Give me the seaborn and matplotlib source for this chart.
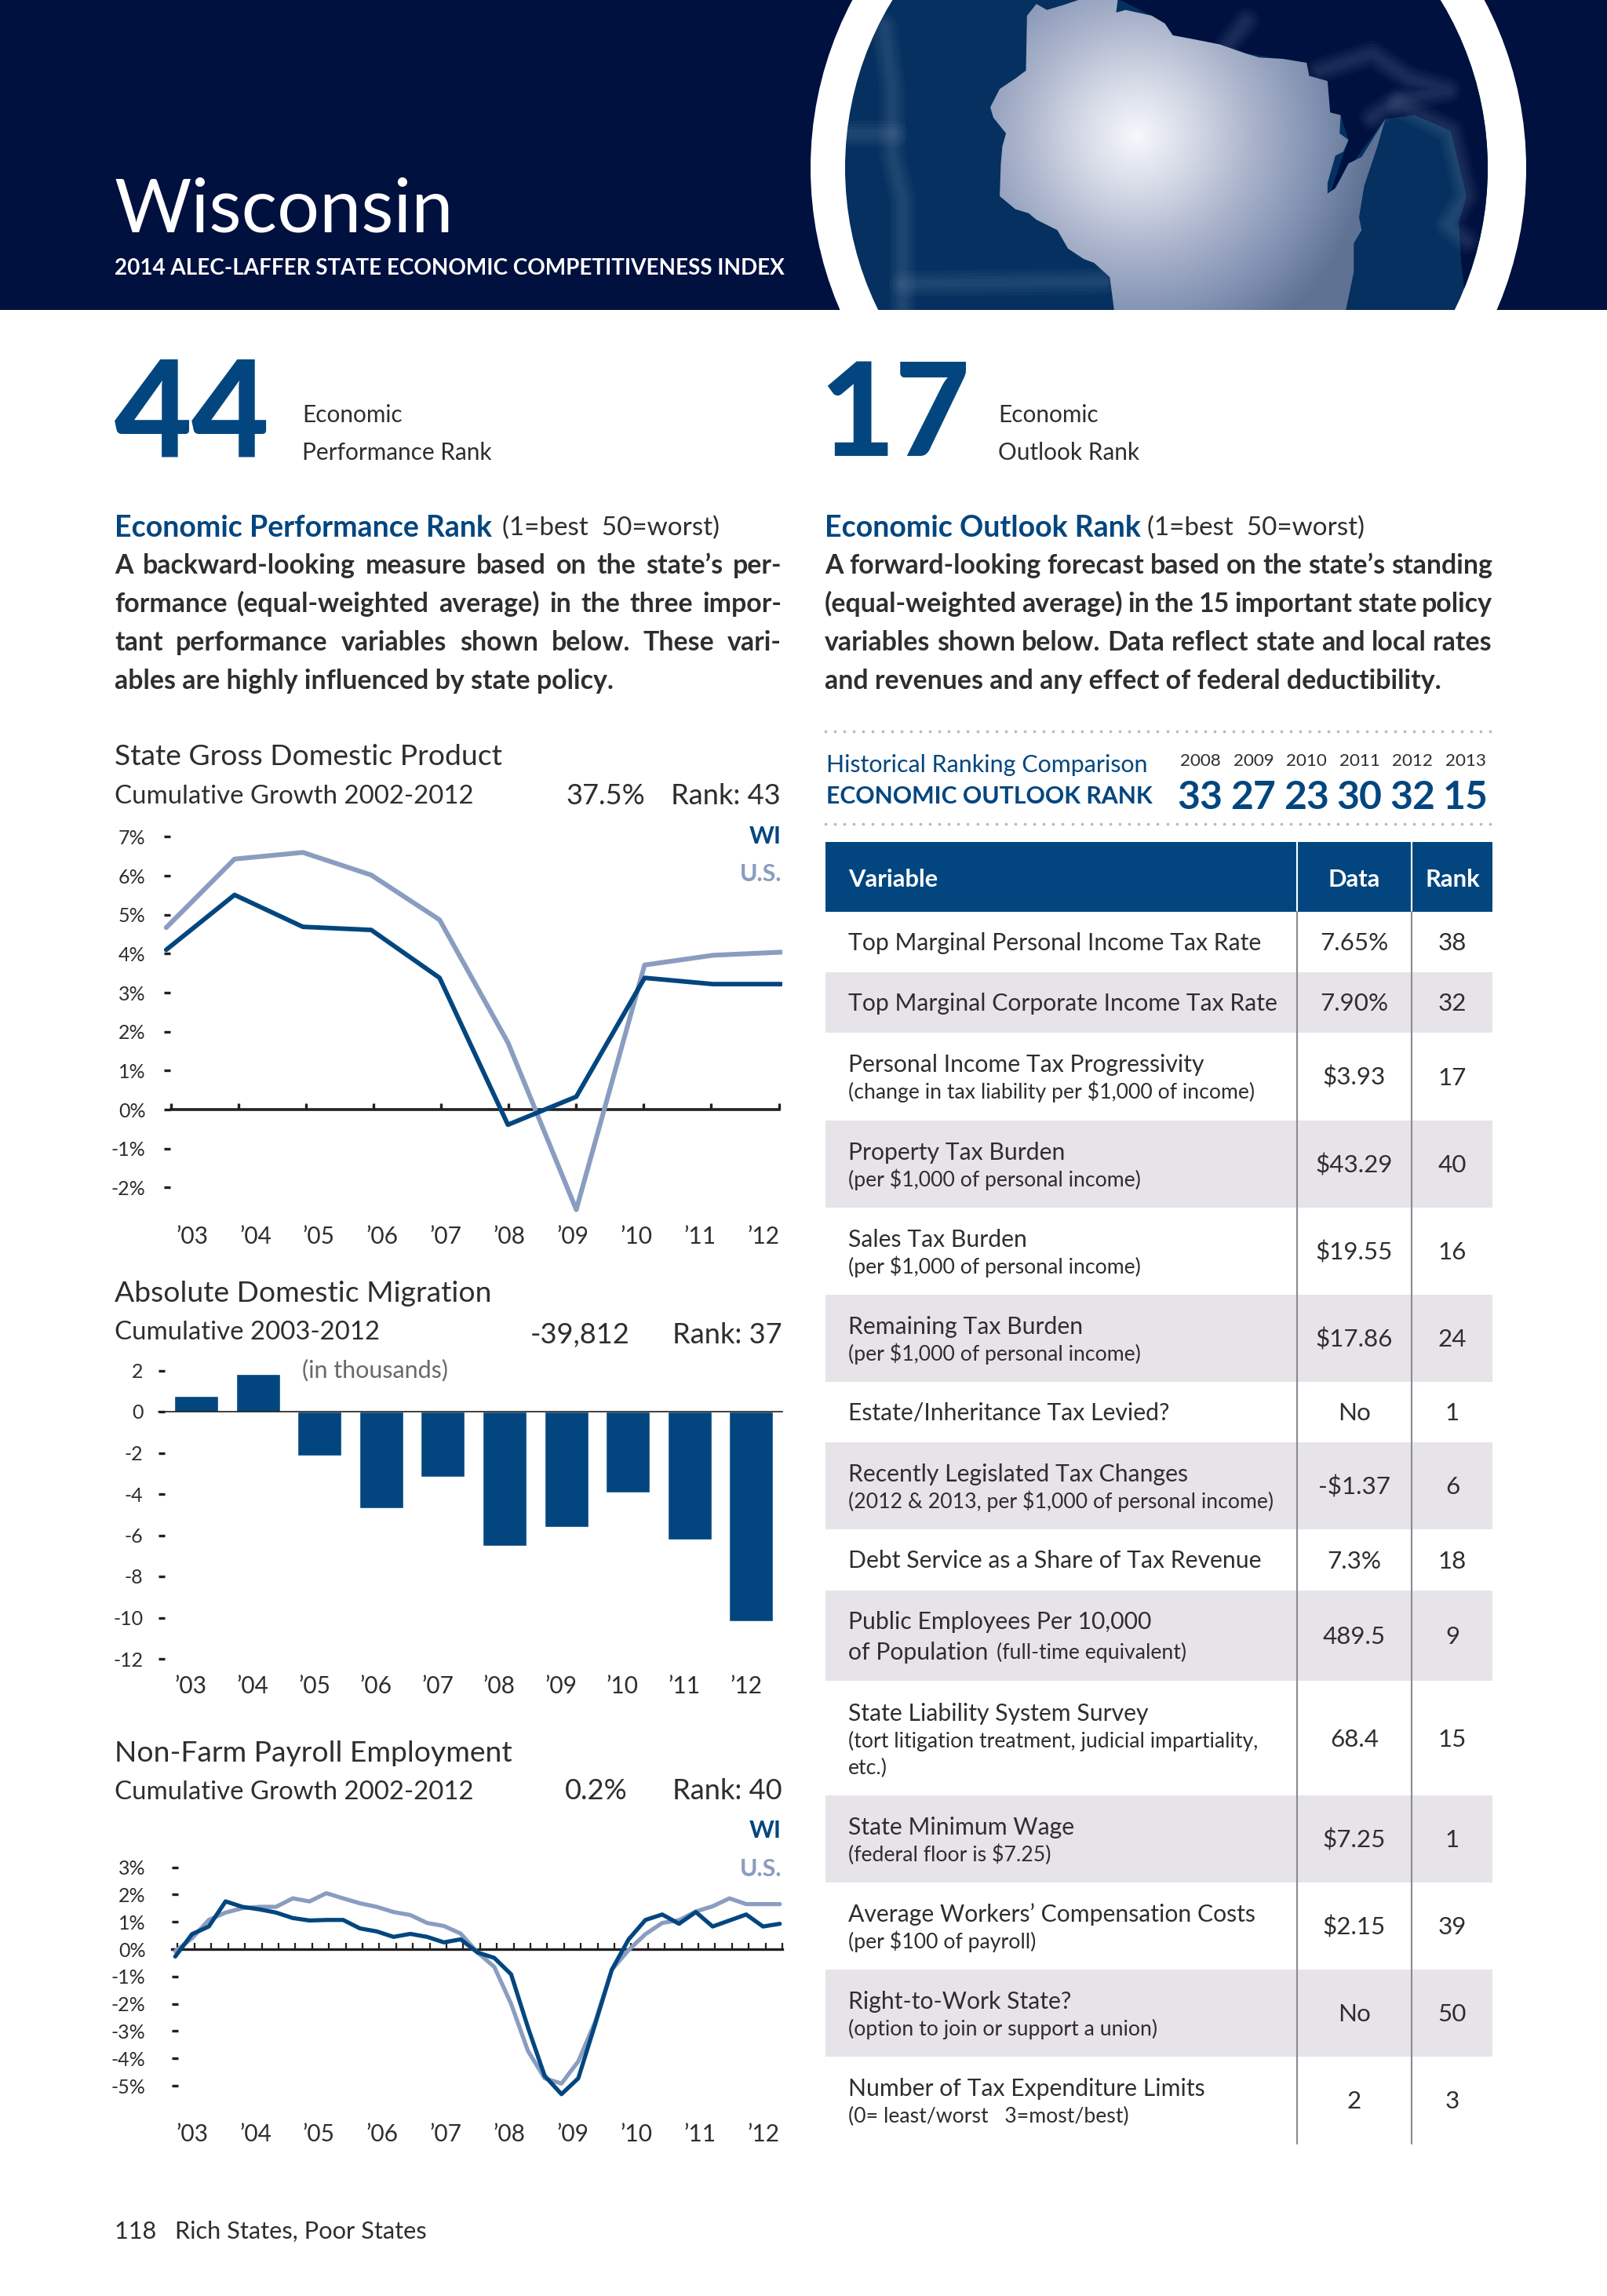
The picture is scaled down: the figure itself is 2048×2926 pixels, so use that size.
import numpy as np
import matplotlib
matplotlib.use("Agg")
import matplotlib.pyplot as plt
import seaborn as sns
from matplotlib.colors import LinearSegmentedColormap
from matplotlib.patches import Circle, Polygon, Rectangle

W, H = 2048, 2926
NAVY = "#00103f"
BLUE = "#03467f"
PALE = "#8a9dc0"
INK = "#2f2d2e"
GREY_ROW = "#e6e4e8"

YEAR_LABELS = ["’03", "’04", "’05", "’06", "’07", "’08", "’09", "’10", "’11", "’12"]

# State GDP growth, % (annual)
GDP_WI = [4.10, 5.51, 4.69, 4.61, 3.38, -0.39, 0.33, 3.38, 3.22, 3.22]
GDP_US = [4.67, 6.43, 6.60, 6.02, 4.87, 1.72, -2.57, 3.71, 3.96, 4.04]
GDP_TICKS = [7, 6, 5, 4, 3, 2, 1, 0, -1, -2]

# Domestic migration, thousands
MIGRATION = [0.76, 1.84, -2.12, -4.69, -3.17, -6.51, -5.61, -3.94, -6.22, -10.17]
MIGRATION_TICKS = [2, 0, -2, -4, -6, -8, -10, -12]

# Payroll employment growth, % (quarterly points)
JOBS_WI = [-0.27, 0.55, 0.83, 1.75, 1.55, 1.46, 1.34, 1.14, 1.05, 1.07, 1.07, 0.76, 0.65,
           0.45, 0.56, 0.45, 0.25, 0.36, -0.12, -0.32, -0.92, -2.86, -4.64, -5.31, -4.73,
           -2.76, -0.75, 0.36, 1.07, 1.27, 0.93, 1.36, 0.83, 1.05, 1.27, 0.83, 0.93]
JOBS_US = [-0.08, 0.40, 1.07, 1.34, 1.50, 1.55, 1.55, 1.86, 1.75, 2.05, 1.86, 1.68, 1.55,
           1.36, 1.25, 0.96, 0.85, 0.57, -0.12, -0.65, -2.00, -3.72, -4.73, -4.92, -4.11,
           -2.67, -0.75, -0.03, 0.55, 0.96, 1.06, 1.38, 1.57, 1.86, 1.65, 1.65, 1.65]
JOBS_TICKS = [3, 2, 1, 0, -1, -2, -3, -4, -5]

HIST_YEARS = ["2008", "2009", "2010", "2011", "2012", "2013"]
HIST_RANKS = ["33", "27", "23", "30", "32", "15"]

VARIABLES = [
    "Top Marginal Personal Income Tax Rate",
    "Top Marginal Corporate Income Tax Rate",
    "Personal Income Tax Progressivity",
    "Property Tax Burden",
    "Sales Tax Burden",
    "Remaining Tax Burden",
    "Estate/Inheritance Tax Levied?",
    "Recently Legislated Tax Changes",
    "Debt Service as a Share of Tax Revenue",
    "Public Employees Per 10,000",
    "State Liability System Survey",
    "State Minimum Wage",
    "Average Workers’ Compensation Costs",
    "Right-to-Work State?",
    "Number of Tax Expenditure Limits",
]
NOTES = [
    "", "",
    "(change in tax liability per $1,000 of income)",
    "(per $1,000 of personal income)",
    "(per $1,000 of personal income)",
    "(per $1,000 of personal income)",
    "",
    "(2012 & 2013, per $1,000 of personal income)",
    "",
    "",
    "(tort litigation treatment, judicial impartiality,",
    "(federal floor is $7.25)",
    "(per $100 of payroll)",
    "(option to join or support a union)",
    "(0= least/worst   3=most/best)",
]
DATA_VALUES = ["7.65%", "7.90%", "$3.93", "$43.29", "$19.55", "$17.86", "No", "-$1.37",
               "7.3%", "489.5", "68.4", "$7.25", "$2.15", "No", "2"]
RANK_VALUES = ["38", "32", "17", "40", "16", "24", "1", "6", "18", "9", "15", "1", "39", "50", "3"]
ROW_EDGES = [1161.7, 1239.3, 1315.8, 1428, 1538.8, 1650, 1761, 1837.8, 1949, 2026.5, 2141.8,
             2287.8, 2399, 2510, 2621, 2732]

LEFT_LINES = ["A backward-looking measure based on the state’s per-",
              "formance (equal-weighted average) in the three impor-",
              "tant performance variables shown below. These vari-",
              "ables are highly influenced by state policy."]
RIGHT_LINES = ["A forward-looking forecast based on the state’s standing",
               "(equal-weighted average) in the 15 important state policy",
               "variables shown below. Data reflect state and local rates",
               "and revenues and any effect of federal deductibility."]

# map outline, in crop coordinates
WI_OUTLINE = [(480, 15), (500, 38), (530, 20), (560, 0), (635, 0), (632, 48), (650, 38), (700, 60),
              (725, 90), (740, 135), (780, 150), (830, 170), (880, 205), (905, 220), (950, 225),
              (995, 240), (1000, 290), (1035, 310), (1040, 430), (1060, 440), (1058, 510),
              (1075, 535), (1065, 580), (1050, 595), (1035, 700), (1035, 740), (1050, 720),
              (1075, 625), (1100, 600), (1145, 455), (1130, 560), (1105, 710), (1095, 830),
              (1100, 880), (1085, 930), (1085, 1040), (1070, 1185), (628, 1185), (620, 1060),
              (590, 1005), (570, 990), (540, 950), (520, 880), (480, 840), (465, 815), (440, 800),
              (410, 750), (412, 630), (415, 560), (422, 510), (398, 450), (392, 410), (410, 340),
              (440, 300), (460, 270), (462, 60)]
WATER = [(640, 0), (700, 60), (740, 135), (880, 205), (995, 240), (1000, 290), (1035, 310),
         (1040, 430), (1060, 440), (1075, 535), (1040, 740), (1080, 630), (1145, 455), (1200, 440),
         (1270, 500), (1300, 750), (1285, 850), (1290, 1000), (1300, 1185), (1450, 1185), (1450, 0)]
FAINT_LINES = [[(190, 100), (205, 330), (205, 590), (225, 760), (225, 1185)],
               [(120, 510), (210, 510)],
               [(225, 1085), (610, 1075)],
               [(880, 80), (845, 170)],
               [(1020, 270), (1120, 205), (1190, 300), (1265, 345), (1170, 380), (1120, 450)],
               [(1170, 400), (1270, 500), (1300, 750), (1265, 860), (1300, 920)]]


def crop_to_px(points):
    return [(1000 + x / 1.496, y / 3) for x, y in points]


sns.set_theme(style="white")
plt.rcParams["font.family"] = ["Lato", "DejaVu Sans"]
plt.rcParams["text.color"] = INK

fig = plt.figure(figsize=(W / 100, H / 100), dpi=100, facecolor="white")
page = fig.add_axes([0, 0, 1, 1])
page.set_xlim(0, W)
page.set_ylim(H, 0)
page.axis("off")
renderer = fig.canvas.get_renderer()


def fit_size(s, width, weight="normal"):
    t = page.text(0, 0, s, fontsize=20, fontweight=weight)
    w = t.get_window_extent(renderer).width
    t.remove()
    return 20 * width / w


def txt(x, y, s, size, color=INK, weight="normal", ha="left", **kw):
    # y is the middle of the capitals
    return page.text(x, y + 1.5 + 0.33 * size * 100 / 72, s, fontsize=size, color=color, fontweight=weight,
                     ha=ha, va="baseline", **kw)


def justified(x0, x1, y, line, size, weight="bold"):
    words = line.split(" ")
    items = [txt(0, y, w, size, weight=weight) for w in words]
    widths = [t.get_window_extent(renderer).width for t in items]
    gap = (x1 - x0 - sum(widths)) / (len(words) - 1)
    x = x0
    for t, w in zip(items, widths):
        t.set_x(x)
        x += w + gap


def add_chart(left, top, right, bottom):
    ax = fig.add_axes([left / W, 1 - bottom / H, (right - left) / W, (bottom - top) / H])
    ax.patch.set_alpha(0)
    return ax


def style_chart(ax, zero_px, unit_px, top, bottom, ticks, fmt, pad):
    ax.set_ylim((zero_px - bottom) / unit_px, (zero_px - top) / unit_px)
    ax.set_yticks(ticks)
    ax.set_yticklabels([fmt.format(t) for t in ticks])
    ax.tick_params(axis="y", direction="in", length=5.5, width=2.4, color="#231f20", left=True,
                   labelsize=18, labelcolor=INK, pad=pad)
    ax.tick_params(axis="x", labelbottom=False)
    ax.set_xlabel("")
    ax.set_ylabel("")
    ax.grid(False)
    for side in ["left", "right", "top"]:
        ax.spines[side].set_visible(False)
    ax.spines["bottom"].set_position(("data", 0))
    ax.spines["bottom"].set_color("#231f20")


# ---- header ----
page.add_patch(Rectangle((0, 0), W, 395, facecolor=NAVY, edgecolor="none"))
banner_clip = Rectangle((0, 0), W, 395, transform=page.transData)
ring = Circle((1489, 214), 456, facecolor="white", edgecolor="none")
page.add_patch(ring)
ring.set_clip_path(banner_clip)
globe = Circle((1486.5, 214), 409.5, facecolor="#05305f", edgecolor="none")
page.add_patch(globe)
globe.set_clip_path(banner_clip)
globe_clip = Circle((1486.5, 214), 409.5, transform=page.transData)

water = Polygon(crop_to_px(WATER), closed=True, facecolor=NAVY, edgecolor="none")
page.add_patch(water)
water.set_clip_path(globe_clip)
for path in FAINT_LINES:
    pts = np.array(crop_to_px(path))
    for lw in [24, 18, 12, 7]:
        ln, = page.plot(pts[:, 0], pts[:, 1], color="#8fa6c6", lw=lw, alpha=0.05, zorder=1.5,
                        solid_capstyle="round", solid_joinstyle="round")
        ln.set_clip_path(globe_clip)
# keep the blurred lines inside the banner
page.add_patch(Rectangle((1000, 395), 1000, 60, facecolor="white", edgecolor="none", zorder=1.8))

gx, gy = np.meshgrid(np.linspace(1200, 1780, 300), np.linspace(0, 395, 220))
glow = np.hypot(gx - 1448, gy - 173) / 300
state_cmap = LinearSegmentedColormap.from_list(
    "state", ["#f6f8fc", "#d3d8e5", "#aab3cb", "#8494b4", "#5f7294"])
shade = page.imshow(glow, extent=(1200, 1780, 395, 0), cmap=state_cmap, vmin=0, vmax=1,
                    aspect="auto", zorder=2)
state_patch = Polygon(crop_to_px(WI_OUTLINE), closed=True, transform=page.transData)
shade.set_clip_path(state_patch)
page.set_xlim(0, W)
page.set_ylim(H, 0)

page.text(146, 296, "Wisconsin", color="white", va="baseline",
          fontsize=fit_size("Wisconsin", 433))
txt(146, 339, "2014 ALEC-LAFFER STATE ECONOMIC COMPETITIVENESS INDEX",
    fit_size("2014 ALEC-LAFFER STATE ECONOMIC COMPETITIVENESS INDEX", 857, "bold"),
    color="white", weight="bold")

# ---- rank blocks ----
big = 123
txt(146, 525, "44", big, color=BLUE, weight="black")
txt(1044, 525, "17", big * 0.97, color=BLUE, weight="black")
small = fit_size("Performance Rank", 242)
txt(385, 527, "Economic", small)
txt(385, 575, "Performance Rank", small)
txt(1272, 527, "Economic", small)
txt(1272, 575, "Outlook Rank", small)

head = fit_size("Economic Performance Rank", 481, "bold")
paren = fit_size("(1=best  50=worst)", 277)
txt(146, 670, "Economic Performance Rank", head, color=BLUE, weight="bold")
txt(640, 670, "(1=best  50=worst)", paren)
txt(1051, 670, "Economic Outlook Rank", head, color=BLUE, weight="bold")
txt(1462, 670, "(1=best  50=worst)", paren)

para = fit_size(LEFT_LINES[3], 648, "bold") * 0.98
for i, y in enumerate([718, 767, 816, 865]):
    if i < 3:
        justified(146, 996, y, LEFT_LINES[i], para)
        justified(1051, 1902, y, RIGHT_LINES[i], para)
    else:
        txt(146, y, LEFT_LINES[i], para, weight="bold")
        txt(1051, y, RIGHT_LINES[i], para, weight="bold")

# ---- left column headings ----
title_size = fit_size("State Gross Domestic Product", 495)
sub_size = fit_size("Cumulative Growth 2002-2012", 459)
txt(146, 961, "State Gross Domestic Product", title_size)
txt(146, 1012, "Cumulative Growth 2002-2012", sub_size)
txt(721, 1012, "37.5%", title_size * 0.97)
txt(995, 1012, "Rank: 43", title_size * 0.97, ha="right")
txt(146, 1645, "Absolute Domestic Migration", title_size)
txt(146, 1695, "Cumulative 2003-2012", sub_size)
txt(676, 1699, "-39,812", title_size * 0.97)
txt(997, 1699, "Rank: 37", title_size * 0.97, ha="right")
txt(385, 1744, "(in thousands)", fit_size("(in thousands)", 187), color="#6a686a")
txt(146, 2231, "Non-Farm Payroll Employment", title_size)
txt(146, 2281, "Cumulative Growth 2002-2012", sub_size)
txt(720, 2280, "0.2%", title_size * 0.97)
txt(997, 2280, "Rank: 40", title_size * 0.97, ha="right")

label_size = fit_size("U.S.", 54, "bold")
for y_wi, y_us in [(1063, 1111), (2330, 2379)]:
    txt(996, y_wi, "WI", label_size, color=BLUE, weight="bold", ha="right")
    txt(996, y_us, "U.S.", label_size, color=PALE, weight="bold", ha="right")

year_size = fit_size("’08", 41)
for y in (1574, 2718):
    for x, lab in zip(np.linspace(244.6, 972.5, 10), YEAR_LABELS):
        txt(x, y, lab, year_size, ha="center")
for x, lab in zip(np.linspace(243.4, 950.6, 10), YEAR_LABELS):
    txt(x, 2147, lab, year_size, ha="center")

# ---- GDP lines ----
ax1 = add_chart(209, 1052, 997, 1556)
years_idx = np.arange(len(GDP_WI))
sns.lineplot(x=years_idx, y=GDP_US, color=PALE, lw=4.4, ax=ax1, zorder=3)
sns.lineplot(x=years_idx, y=GDP_WI, color=BLUE, lw=4.2, ax=ax1, zorder=4)
step1 = 87.1
ax1.set_xlim((209 - 211.8) / step1, (997 - 211.8) / step1)
style_chart(ax1, 1414, 49.65, 1052, 1556, GDP_TICKS, "{}%", 17)
ticks1 = (np.linspace(217.6, 992.6, 10) - 211.8) / step1
ax1.set_xticks(ticks1)
ax1.tick_params(axis="x", direction="in", length=6, width=2.4, color="#231f20", bottom=True)
ax1.spines["bottom"].set_bounds(ticks1[0], ticks1[-1])
ax1.spines["bottom"].set_linewidth(2.6)

# ---- migration bars ----
ax2 = add_chart(202, 1730, 997, 2125)
sns.barplot(x=YEAR_LABELS, y=MIGRATION, color=BLUE, saturation=1, width=0.71, ax=ax2, zorder=3)
ax2.set_xlim((202 - 250) / 78.6, (997 - 250) / 78.6)
style_chart(ax2, 1799, 26.25, 1730, 2125, MIGRATION_TICKS, "{}", 14)
ax2.tick_params(axis="x", length=0)
ax2.spines["bottom"].set_linewidth(1.2)
ax2.spines["bottom"].set_zorder(5)

# ---- payroll lines ----
ax3 = add_chart(219, 2366, 997, 2682)
quarters = np.arange(len(JOBS_WI))
sns.lineplot(x=quarters, y=JOBS_US, color=PALE, lw=3.8, ax=ax3, zorder=3)
sns.lineplot(x=quarters, y=JOBS_WI, color=BLUE, lw=3.8, ax=ax3, zorder=4)
step3 = 21.49
ax3.set_xlim((219 - 223.3) / step3, (997 - 223.3) / step3)
style_chart(ax3, 2484, 34.8, 2366, 2682, JOBS_TICKS, "{}%", 24)
ax3.set_xticks(quarters + 0.15)
ax3.tick_params(axis="x", direction="in", length=6, width=1.6, color="#231f20", bottom=True)
ax3.spines["bottom"].set_linewidth(2.4)

# ---- historical ranks ----
dots_x = np.arange(1052, 1902, 12.1)
for y in (932, 1050):
    page.scatter(dots_x, np.full(dots_x.shape, y), s=7, color="#b9b9bd", linewidths=0)
txt(1052.6, 972, "Historical Ranking Comparison", fit_size("Historical Ranking Comparison", 410), color=BLUE)
txt(1052.6, 1013, "ECONOMIC OUTLOOK RANK", fit_size("ECONOMIC OUTLOOK RANK", 417, "bold"), color=BLUE, weight="bold")
hist_year_size = fit_size("2008", 52)
hist_rank_size = fit_size("33", 50, "bold") * 1.15
for x, yr, rk in zip(np.linspace(1529.7, 1867.8, 6), HIST_YEARS, HIST_RANKS):
    txt(x, 967, yr, hist_year_size, ha="center")
    txt(x, 1013, rk, hist_rank_size, color=BLUE, weight="bold", ha="center")

# ---- table ----
TABLE_L, TABLE_R, COL_1, COL_2 = 1051.5, 1901.6, 1653, 1799
DATA_X, RANK_X, VAR_X = 1726, 1851, 1081
page.add_patch(Rectangle((TABLE_L, 1073), TABLE_R - TABLE_L, 88.7, facecolor=BLUE, edgecolor="none"))
head_size = fit_size("Variable", 114, "bold")
txt(VAR_X, 1118, "Variable", head_size, color="white", weight="bold")
txt(DATA_X, 1118, "Data", head_size, color="white", weight="bold", ha="center")
txt(RANK_X, 1118, "Rank", head_size, color="white", weight="bold", ha="center")

row_size = fit_size(VARIABLES[1], 547.6)
note_size = fit_size(NOTES[7], 541)
for i, name in enumerate(VARIABLES):
    y0, y1 = ROW_EDGES[i], ROW_EDGES[i + 1]
    mid = (y0 + y1) / 2
    if i % 2 == 1:
        page.add_patch(Rectangle((TABLE_L, y0), TABLE_R - TABLE_L, y1 - y0, facecolor=GREY_ROW, edgecolor="none"))
    if NOTES[i] and i != 10:
        txt(VAR_X, mid - 17, name, row_size)
        txt(VAR_X, mid + 18, NOTES[i], note_size)
    elif i == 9:
        txt(VAR_X, 2065, name, row_size)
        txt(VAR_X, 2104, "of Population", row_size)
        txt(1270, 2104, "(full-time equivalent)", note_size)
    elif i == 10:
        txt(VAR_X, 2182, name, row_size)
        txt(VAR_X, 2217, NOTES[i], note_size)
        txt(VAR_X, 2251, "etc.)", note_size)
    else:
        txt(VAR_X, mid - 1, name, row_size)
    txt(DATA_X, mid - 1, DATA_VALUES[i], row_size * 1.04, ha="center")
    txt(RANK_X, mid - 1, RANK_VALUES[i], row_size * 1.04, ha="center")

for x in (COL_1, COL_2):
    page.plot([x, x], [1073, 1161.7], color="white", lw=1.5, zorder=3)
    page.plot([x, x], [1161.7, 2732], color="#8b8b8f", lw=1.5, zorder=3)

txt(146, 2841, "118   Rich States, Poor States", fit_size("118   Rich States, Poor States", 398))

fig.savefig("out.png", dpi=100)
